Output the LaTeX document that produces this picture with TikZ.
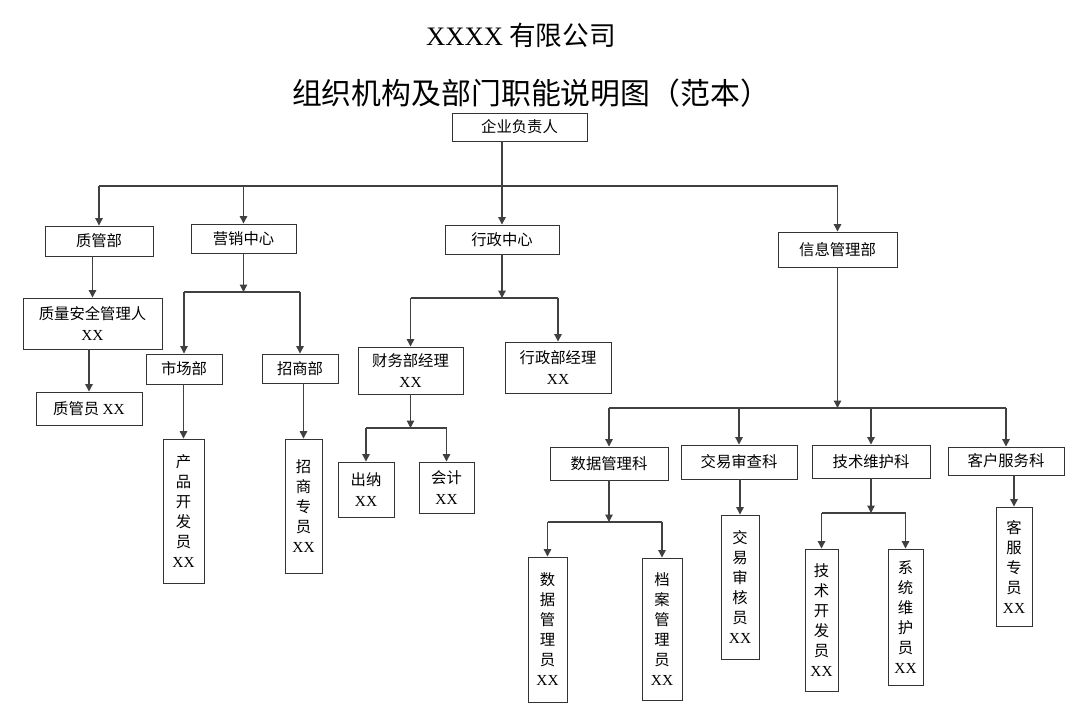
\documentclass[tikz,border=0pt]{standalone}
\usepackage{fontspec}
\setmainfont{Noto Sans CJK SC}
\newfontfamily\serifxx{Liberation Serif}
\usetikzlibrary{arrows.meta,positioning}
\newcommand{\nmxx}{{\serifxx XX}}

\begin{document}
\begin{tikzpicture}[x=0.75pt,y=-0.75pt,font=\fontsize{11.5}{16}\selectfont,
 box/.style={draw=black!80,line width=.7pt,align=center,inner sep=1pt},
 vbox/.style={box,font=\fontsize{11.5}{15}\selectfont},
 sz/.style 2 args={minimum width=#1*0.75pt,minimum height=#2*0.75pt},
 ar/.style={-{Triangle[length=5.5pt,width=5.5pt]},line width=.9pt,draw=black!75},
 ln/.style={line width=.9pt,draw=black!75},
 ttl/.style={font=\fontsize{20}{24}\selectfont}]
\useasboundingbox (0,0) rectangle (1080,714);
% titles
\node[ttl] (t1) at (521,35) {{\serifxx XXXX} 有限公司};
\node[ttl,font=\fontsize{22.4}{27}\selectfont] (t2) at (531,93) {组织机构及部门职能说明图（范本）};
% level 1 and 2
\node[box,sz={135}{28}] (boss) at (519.5,127) {企业负责人};
\node[box,sz={108}{30}] (zgb) at (99,241) {质管部};
\node[box,sz={105}{29}] (yxzx) at (243.5,238.5) {营销中心};
\node[box,sz={114}{29}] (xzzx) at (502,239.5) {行政中心};
\node[box,sz={119}{35}] (xxb) at (837.5,249.5) {信息管理部};
% quality
\node[box,sz={139}{51}] (zlaq) at (92.5,323.5) {质量安全管理人\\\nmxx};
\node[box,sz={106}{33}] (zgy) at (89,408.5) {质管员 \nmxx};
% marketing
\node[box,sz={76}{30}] (scb) at (184,369) {市场部};
\node[box,sz={76}{29}] (zsb) at (300,368.5) {招商部};
\node[vbox,sz={41}{144}] (cpkf) at (183.5,511) {产\\品\\开\\发\\员\\\nmxx};
\node[vbox,sz={37}{134}] (zszy) at (303.5,506) {招\\商\\专\\员\\\nmxx};
% administration
\node[box,sz={105}{47}] (cwjl) at (410.5,370.5) {财务部经理\\\nmxx};
\node[box,sz={106}{51}] (xzjl) at (558,367.5) {行政部经理\\\nmxx};
\node[box,sz={56}{55}] (cn) at (366,489.5) {出纳\\\nmxx};
\node[box,sz={55}{51}] (kj) at (446.5,487.5) {会计\\\nmxx};
% information
\node[box,sz={118}{33}] (sjgl) at (609,463.5) {数据管理科};
\node[box,sz={116}{34}] (jysc) at (739,462) {交易审查科};
\node[box,sz={118}{33}] (jswh) at (871,461.5) {技术维护科};
\node[box,sz={116}{28}] (khfw) at (1006,461) {客户服务科};
\node[vbox,sz={39}{145}] (sjgly) at (547.5,629.5) {数\\据\\管\\理\\员\\\nmxx};
\node[vbox,sz={40}{142}] (dagly) at (662,629) {档\\案\\管\\理\\员\\\nmxx};
\node[vbox,sz={38}{144}] (jyshy) at (740,587) {交\\易\\审\\核\\员\\\nmxx};
\node[vbox,sz={33}{142}] (jskfy) at (821.5,620) {技\\术\\开\\发\\员\\\nmxx};
\node[vbox,sz={35}{136}] (xtwhy) at (905.5,617) {系\\统\\维\\护\\员\\\nmxx};
\node[vbox,sz={36}{119}] (kfzy) at (1014,566.5) {客\\服\\专\\员\\\nmxx};
% bus lines
\coordinate (topbus) at (0,186);
\coordinate (yxbus) at (0,292);
\coordinate (xzbus) at (0,298);
\coordinate (cwbus) at (0,428);
\coordinate (xxbus) at (0,408);
\coordinate (sjbus) at (0,522);
\coordinate (jsbus) at (0,513);
% top level
\draw[ln] (zgb.north |- topbus) -- (xxb.north |- topbus);
\draw[ar] (xzzx.north |- boss.south) -- (xzzx.north);
\foreach \n in {zgb,yxzx,xxb}
 \draw[ar] (\n.north |- topbus) -- (\n.north);
% quality chain
\draw[ar] (zlaq.north |- zgb.south) -- (zlaq.north);
\draw[ar] (zgy.north |- zlaq.south) -- (zgy.north);
% marketing
\draw[ar] (yxzx.south) -- (yxzx.south |- yxbus);
\draw[ln] (scb.north |- yxbus) -- (zsb.north |- yxbus);
\draw[ar] (scb.north |- yxbus) -- (scb.north);
\draw[ar] (zsb.north |- yxbus) -- (zsb.north);
\draw[ar] (cpkf.north |- scb.south) -- (cpkf.north);
\draw[ar] (zszy.north |- zsb.south) -- (zszy.north);
% administration
\draw[ar] (xzzx.south) -- (xzzx.south |- xzbus);
\draw[ln] (cwjl.north |- xzbus) -- (xzjl.north |- xzbus);
\draw[ar] (cwjl.north |- xzbus) -- (cwjl.north);
\draw[ar] (xzjl.north |- xzbus) -- (xzjl.north);
\draw[ar] (cwjl.south) -- (cwjl.south |- cwbus);
\draw[ln] (cn.north |- cwbus) -- (kj.north |- cwbus);
\draw[ar] (cn.north |- cwbus) -- (cn.north);
\draw[ar] (kj.north |- cwbus) -- (kj.north);
% information
\draw[ar] (xxb.south) -- (xxb.south |- xxbus);
\draw[ln] (sjgl.north |- xxbus) -- (khfw.north |- xxbus);
\foreach \n in {sjgl,jysc,jswh,khfw}
 \draw[ar] (\n.north |- xxbus) -- (\n.north);
\draw[ar] (sjgl.south) -- (sjgl.south |- sjbus);
\draw[ln] (sjgly.north |- sjbus) -- (dagly.north |- sjbus);
\draw[ar] (sjgly.north |- sjbus) -- (sjgly.north);
\draw[ar] (dagly.north |- sjbus) -- (dagly.north);
\draw[ar] (jyshy.north |- jysc.south) -- (jyshy.north);
\draw[ar] (jswh.south) -- (jswh.south |- jsbus);
\draw[ln] (jskfy.north |- jsbus) -- (xtwhy.north |- jsbus);
\draw[ar] (jskfy.north |- jsbus) -- (jskfy.north);
\draw[ar] (xtwhy.north |- jsbus) -- (xtwhy.north);
\draw[ar] (kfzy.north |- khfw.south) -- (kfzy.north);
\end{tikzpicture}
\end{document}
